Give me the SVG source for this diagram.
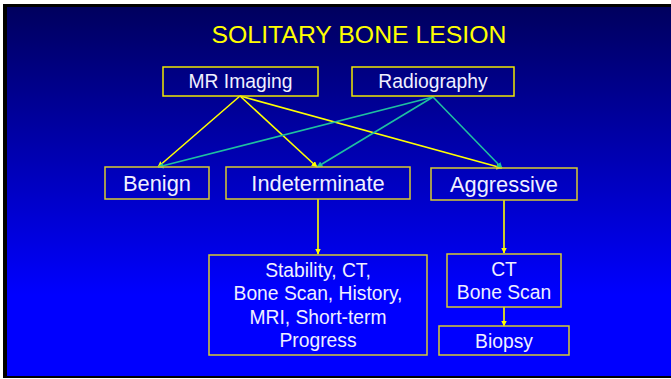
<svg xmlns="http://www.w3.org/2000/svg" width="671" height="379" viewBox="0 0 671 379">
  <defs>
    <linearGradient id="bg" x1="0" y1="0" x2="0" y2="1">
      <stop offset="0" stop-color="#00005E"/>
      <stop offset="0.78" stop-color="#0000FF"/>
      <stop offset="1" stop-color="#0000FF"/>
    </linearGradient>
    <marker id="ay" viewBox="0 0 6 6" refX="5.5" refY="3" markerWidth="6" markerHeight="6" markerUnits="userSpaceOnUse" orient="auto">
      <path d="M0,0 L6,3 L0,6 Z" fill="#FFFF00"/>
    </marker>
    <marker id="at" viewBox="0 0 6 6" refX="5.5" refY="3" markerWidth="6" markerHeight="6" markerUnits="userSpaceOnUse" orient="auto">
      <path d="M0,0 L6,3 L0,6 Z" fill="#1EC0A0"/>
    </marker>
    <style>
      .box { fill: none; stroke: #D8CC30; stroke-width: 1.5; }
      .top { stroke: #F0E800; }
      .lbl { font-family: "Liberation Sans", Arial, sans-serif; fill: #F0F0FF; text-anchor: middle; }
      .big { font-size: 21.8px; }
      .med { font-size: 19.3px; }
      .y { stroke: #FFFF00; stroke-width: 1.6; fill: none; marker-end: url(#ay); }
      .t { stroke: #1EC0A0; stroke-width: 1.6; fill: none; marker-end: url(#at); }
    </style>
  </defs>
  <rect x="0" y="0" width="671" height="379" fill="#FFFFFF"/>
  <rect x="3" y="4" width="668" height="374" fill="#000000"/>
  <rect x="7" y="7" width="664" height="369" fill="url(#bg)"/>
  <text x="359" y="43" font-family="Liberation Sans, Arial, sans-serif" font-size="24.8" fill="#FFFF00" text-anchor="middle">SOLITARY BONE LESION</text>

  <g id="connectors">
    <line class="y" x1="240" y1="96" x2="158" y2="167"/>
    <line class="y" x1="240" y1="96" x2="317" y2="167"/>
    <line class="y" x1="240" y1="96" x2="502" y2="168"/>
    <line class="t" x1="433" y1="97" x2="158" y2="167"/>
    <line class="t" x1="433" y1="97" x2="317" y2="167"/>
    <line class="t" x1="433" y1="97" x2="502" y2="168"/>
    <line class="y" x1="318" y1="199" x2="318" y2="254"/>
    <line class="y" x1="504" y1="200" x2="504" y2="253"/>
    <line class="y" x1="504" y1="307" x2="504" y2="326"/>
  </g>

  <g id="mr-imaging">
    <rect class="box top" x="163" y="67" width="155" height="29"/>
    <text class="lbl med" x="240.5" y="87.5">MR Imaging</text>
  </g>
  <g id="radiography">
    <rect class="box top" x="352" y="67" width="162" height="29"/>
    <text class="lbl med" x="433" y="88">Radiography</text>
  </g>
  <g id="benign">
    <rect class="box" x="105" y="167" width="104" height="32"/>
    <text class="lbl big" x="157" y="191">Benign</text>
  </g>
  <g id="indeterminate">
    <rect class="box" x="226" y="167" width="184" height="32"/>
    <text class="lbl big" x="318" y="191">Indeterminate</text>
  </g>
  <g id="aggressive">
    <rect class="box" x="431" y="168" width="146" height="32"/>
    <text class="lbl big" x="504" y="192">Aggressive</text>
  </g>
  <g id="stability">
    <rect class="box" x="209" y="255" width="218" height="100"/>
    <text class="lbl med" x="318" y="277">Stability, CT,</text>
    <text class="lbl med" x="318" y="300">Bone Scan, History,</text>
    <text class="lbl med" x="318" y="323.5">MRI, Short-term</text>
    <text class="lbl med" x="318" y="347">Progress</text>
  </g>
  <g id="ct-bone-scan">
    <rect class="box" x="447" y="254" width="114" height="53"/>
    <text class="lbl med" x="504" y="276">CT</text>
    <text class="lbl med" x="504" y="299">Bone Scan</text>
  </g>
  <g id="biopsy">
    <rect class="box" x="439" y="326" width="130" height="29"/>
    <text class="lbl med" x="504" y="348">Biopsy</text>
  </g>
</svg>
